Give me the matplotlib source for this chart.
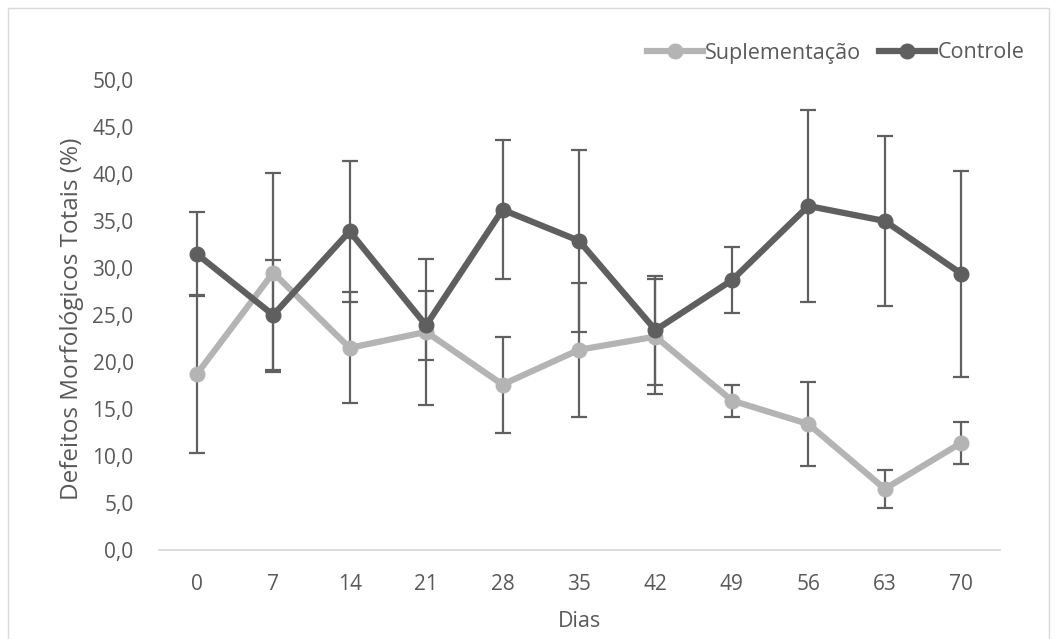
import matplotlib
matplotlib.use("Agg")
import matplotlib.pyplot as plt
from matplotlib.lines import Line2D
from matplotlib.patches import Rectangle
import numpy as np

dias = ["0", "7", "14", "21", "28", "35", "42", "49", "56", "63", "70"]
suplementacao = [18.7, 29.5, 21.5, 23.2, 17.6, 21.3, 22.7, 15.9, 13.4, 6.5, 11.4]
supl_err = [8.4, 10.6, 5.9, 7.75, 5.1, 7.1, 6.1, 1.7, 4.5, 2.0, 2.2]
controle = [31.5, 25.0, 33.9, 23.9, 36.2, 32.9, 23.4, 28.7, 36.6, 35.0, 29.4]
ctrl_err = [4.5, 5.8, 7.5, 3.65, 7.4, 9.7, 5.8, 3.5, 10.2, 9.0, 10.95]
yticks = [0, 5, 10, 15, 20, 25, 30, 35, 40, 45, 50]

plt.rcParams['font.family'] = ['Open Sans', 'DejaVu Sans']
txt = '#595959'
c_sup = '#b4b4b4'
c_ctl = '#5f5f5f'
c_err = '#606060'
fs = 15

W, H = 1057, 639
fig = plt.figure(figsize=(W / 100, H / 100), dpi=100)
ax = fig.add_axes([158.5 / W, 1 - 550 / H, (999.5 - 158.5) / W, (550 - 80) / H])

x = np.arange(len(dias))
ax.errorbar(x, suplementacao, yerr=supl_err, fmt='none', ecolor=c_err,
            elinewidth=1.6, capsize=6, capthick=1.6, zorder=2)
ax.errorbar(x, controle, yerr=ctrl_err, fmt='none', ecolor=c_err,
            elinewidth=1.6, capsize=6, capthick=1.6, zorder=2)
ax.plot(x, suplementacao, color=c_sup, lw=4.5, marker='o', ms=10.5,
        solid_capstyle='round', zorder=3)
ax.plot(x, controle, color=c_ctl, lw=4.5, marker='o', ms=10.5,
        solid_capstyle='round', zorder=4)

ax.set_xlim(-0.5, len(dias) - 0.5)
ax.set_ylim(0, 50)
ax.set_xticks(x)
ax.set_xticklabels(dias)
ax.set_yticks(yticks)
ax.set_yticklabels([f"{v:.1f}".replace('.', ',') for v in yticks])
ax.tick_params(axis='both', length=0, labelsize=fs, colors=txt)
ax.tick_params(axis='x', pad=17)
ax.tick_params(axis='y', pad=18)
for s in ['top', 'right', 'left']:
    ax.spines[s].set_visible(False)
ax.spines['bottom'].set_color('#d9d9d9')
ax.spines['bottom'].set_linewidth(1.3)

ax.set_xlabel('Dias', fontsize=15.5, color=txt)
ax.set_ylabel('Defeitos Morfológicos Totais (%)', fontsize=17.5, color=txt)
ax.xaxis.set_label_coords(0.5, (550 - 611) / 470)
ax.yaxis.set_label_coords((84 - 158.5) / 841, 0.491)

handles = [Line2D([0], [0], color=c_sup, lw=4.5, marker='o', ms=10.5),
           Line2D([0], [0], color=c_ctl, lw=4.5, marker='o', ms=10.5)]
fig.legend(handles, ['Suplementação', 'Controle'], loc='center right',
           bbox_to_anchor=(1035 / W, 1 - 53 / H), ncol=2, frameon=False,
           fontsize=15.5, labelcolor=txt, handlelength=2.6, handletextpad=0.1,
           columnspacing=0.85, borderpad=0)

fig.patches.append(Rectangle((8 / W, -0.01), (1049 - 8) / W, 1 - 8 / H + 0.01,
                             transform=fig.transFigure, fill=False,
                             edgecolor='#d9d9d9', lw=1.0))

fig.savefig('out.png', dpi=100)
